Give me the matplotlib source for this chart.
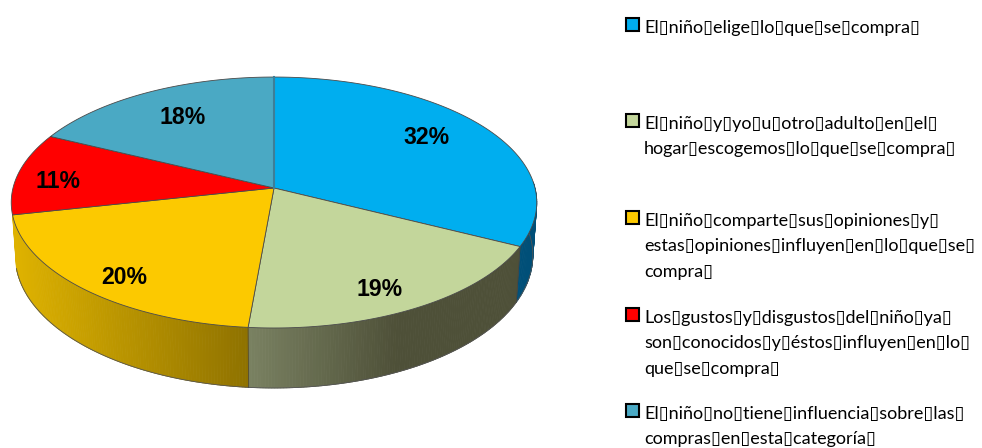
import numpy as np
import matplotlib
matplotlib.use('Agg')
import matplotlib.pyplot as plt

# Values (the printed labels are these, rounded)
shares = [32.4, 19.0, 20.2, 10.6, 17.8]
printed = ['32%', '19%', '20%', '11%', '18%']
top_colors = ['#00aeef', '#c3d69b', '#fcc900', '#ff0000', '#4aa9c4']
box = '\u25af'
legend_labels = [
    'El niño elige lo que se compra ',
    'El niño y yo u otro adulto en el \nhogar escogemos lo que se compra ',
    'El niño comparte sus opiniones y \nestas opiniones influyen en lo que se \ncompra ',
    'Los gustos y disgustos del niño ya \nson conocidos y éstos influyen en lo \nque se compra ',
    'El niño no tiene influencia sobre las \ncompras en esta categoría ',
]

# Perspective of the tilted disc, in pixels
cx, cy = 274, 188
a, k, p = 261, 123.8, 0.1156


def rim(theta, r=1.0):
    u, v = r * np.sin(theta), r * np.cos(theta)
    den = 1 + p * v
    return cx + a * u / den, cy - k * v / den


def rim_low(theta):
    x, y = rim(theta)
    return cx + (x - cx) * 0.985, y + 52 - 8 * np.cos(theta)


def side_color(x, i):
    # shading runs along x, as in the original
    if i == 0:
        return '#004f78'
    if i == 1:
        t = np.clip((x - 247) / 150, 0, 1)
        return np.array([122, 130, 98]) * (1 - t) / 255 + np.array([78, 80, 56]) * t / 255
    t = np.clip((x - 15) / 232, 0, 1)
    return np.array([222, 178, 0]) * (1 - t) / 255 + np.array([143, 114, 0]) * t / 255


fig = plt.figure(figsize=(9.82, 4.48), dpi=100)
ax = fig.add_axes([0, 0, 1, 1])
ax.set_xlim(0, 982)
ax.set_ylim(448, 0)
ax.axis('off')

edges = np.deg2rad(np.cumsum([0] + shares) * 3.6)

# side wall, only the part facing the viewer
for i in range(3):
    th = np.linspace(edges[i], edges[i + 1], 120)
    th = th[np.cos(th) < 0.05]
    for t0, t1 in zip(th[:-1], th[1:]):
        x0, y0 = rim(t0)
        x1, y1 = rim(t1)
        x2, y2 = rim_low(t1)
        x3, y3 = rim_low(t0)
        c = side_color((x0 + x1) / 2, i)
        ax.fill([x0, x1, x2, x3], [y0, y1, y2, y3], color=c, lw=0.6, zorder=1)
    xs, ys = rim_low(th)
    ax.plot(xs, ys, color='#555555', lw=0.6, zorder=2)
    x_t, y_t = rim(th[0])
    x_b, y_b = rim_low(th[0])
    ax.plot([x_t, x_b], [y_t, y_b], color='#444444', lw=0.5, zorder=2)

# top face
for i, col in enumerate(top_colors):
    th = np.linspace(edges[i], edges[i + 1], 200)
    xs, ys = rim(th)
    ax.fill(np.r_[cx, xs], np.r_[cy, ys], facecolor=col, edgecolor='#4a4a4a', lw=0.6, zorder=3)

# the first slice starts on a wider muted line
x_s, y_s = rim(edges[0])
ax.plot([cx, x_s], [cy, y_s], color='#3c7f99', lw=1.5, zorder=3.5)

label_xy = [(427, 138), (380, 289), (124, 277), (58, 181), (183, 117)]
for txt, (x, y) in zip(printed, label_xy):
    ax.text(x, y, txt, fontsize=16.6, fontweight='bold', family='Liberation Sans',
            ha='center', va='center', color='black', zorder=4)

# legend
swatch_y = [25, 121, 218, 315, 411]
for lab, col, y in zip(legend_labels, top_colors, swatch_y):
    ax.add_patch(plt.Rectangle((626, y - 6.5), 13, 13, facecolor=col, edgecolor='black', lw=1.5))
    ax.text(644, y - 5, lab.replace(' ', box), fontsize=12.95, family=['Lato', 'DejaVu Sans'],
            ha='left', va='top', color='black', linespacing=1.73)

fig.savefig('out.png', dpi=100)
